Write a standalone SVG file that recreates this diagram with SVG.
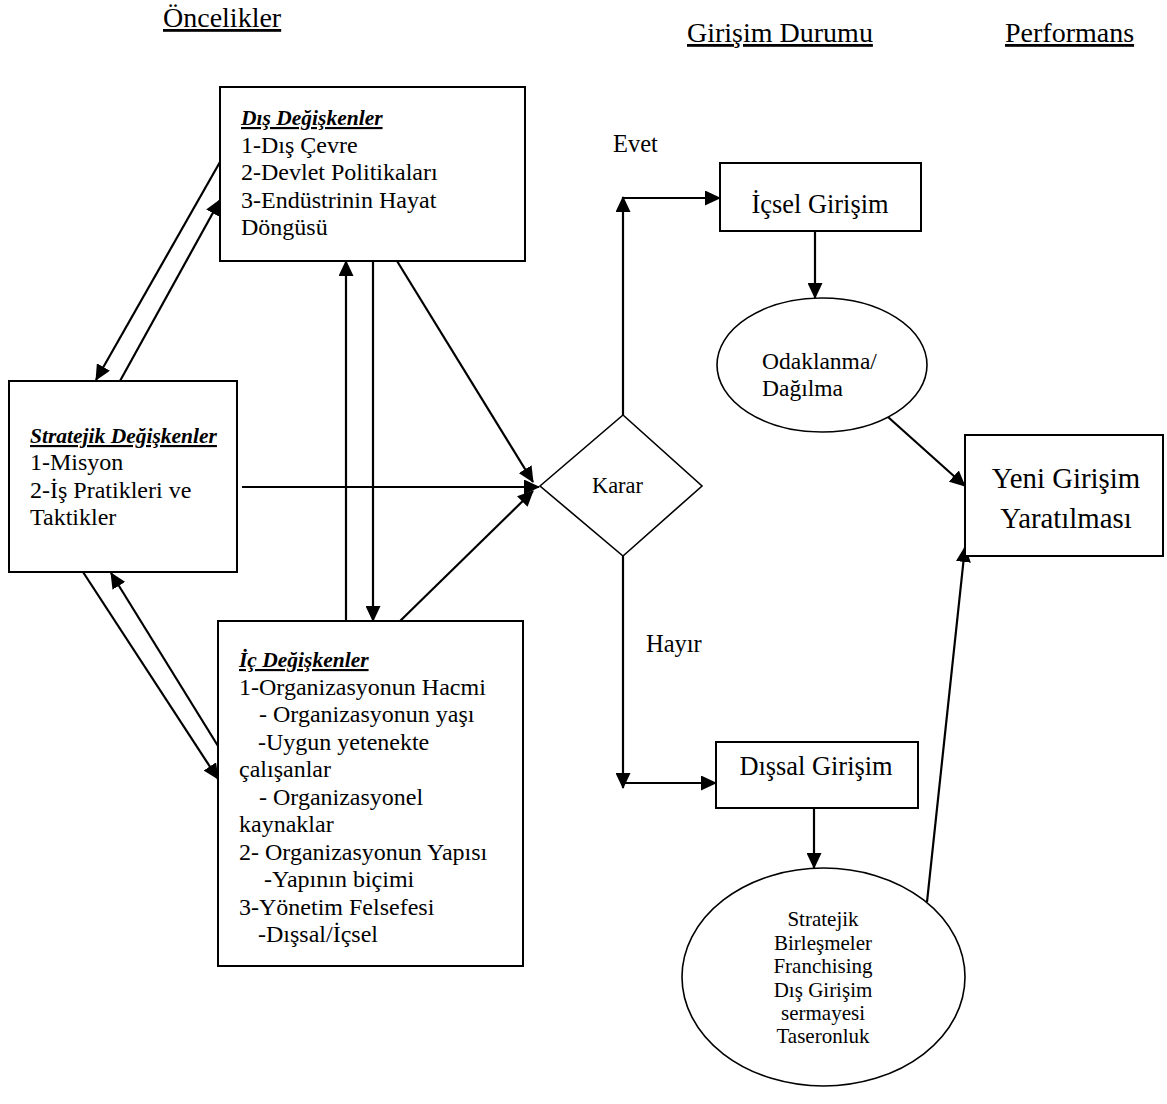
<svg xmlns="http://www.w3.org/2000/svg" width="1167" height="1104" viewBox="0 0 1167 1104">
  <defs>
    <marker id="arrow" viewBox="0 0 16 15" refX="15" refY="7.5" markerWidth="16" markerHeight="15" markerUnits="userSpaceOnUse" orient="auto">
      <path d="M0,0 L16,7.5 L0,15 Z" fill="#000"/>
    </marker>
  </defs>
  <style>
    text { font-family: "Liberation Serif", "Times New Roman", serif; fill: #000; }
    .box { fill: #fff; stroke: #000; stroke-width: 2; }
    .shape { fill: #fff; stroke: #000; stroke-width: 1.6; }
    .body { font-size: 24px; }
    .head { font-size: 21.5px; font-weight: bold; font-style: italic; text-decoration: underline; }
    .title { font-size: 28px; text-decoration: underline; }
    .label { font-size: 24.5px; }
    .conn line { stroke: #000; stroke-width: 2.2; fill: none; }
    .arr { marker-end: url(#arrow); }
  </style>
  <rect width="1167" height="1104" fill="#fff"/>

  <!-- column titles -->
  <g id="titles">
    <text class="title" x="163" y="27">Öncelikler</text>
    <text class="title" x="687" y="42">Girişim Durumu</text>
    <text class="title" x="1005" y="42">Performans</text>
  </g>

  <!-- connectors -->
  <g class="conn" id="connectors">
    <!-- external <-> strategic -->
    <line class="arr" x1="220" y1="162" x2="96" y2="380"/>
    <line class="arr" x1="120" y1="381" x2="220" y2="200"/>
    <!-- strategic <-> internal -->
    <line class="arr" x1="83" y1="572" x2="218" y2="779"/>
    <line class="arr" x1="218" y1="746" x2="111" y2="573"/>
    <!-- external <-> internal -->
    <line class="arr" x1="346" y1="624" x2="346" y2="261"/>
    <line class="arr" x1="373" y1="261" x2="373" y2="621"/>
    <!-- inputs to decision -->
    <line class="arr" x1="397" y1="261" x2="533" y2="482"/>
    <line class="arr" x1="242" y1="487" x2="539" y2="487"/>
    <line class="arr" x1="397" y1="624" x2="533" y2="491"/>
    <!-- yes branch -->
    <line class="arr" x1="623" y1="415" x2="623" y2="197"/>
    <line class="arr" x1="622" y1="198" x2="720" y2="198"/>
    <line class="arr" x1="815" y1="231" x2="815" y2="298"/>
    <line class="arr" x1="888" y1="417" x2="965" y2="486"/>
    <!-- no branch -->
    <line class="arr" x1="623" y1="556" x2="623" y2="788"/>
    <line class="arr" x1="622" y1="783" x2="716" y2="783"/>
    <line class="arr" x1="814" y1="808" x2="814" y2="868"/>
    <line class="arr" x1="927" y1="902" x2="965" y2="547"/>
  </g>

  <g id="dis-degiskenler">
    <rect class="box" x="220" y="87" width="305" height="174"/>
    <text class="head" x="241" y="125">Dış Değişkenler</text>
    <text class="body" x="241" y="152.5">1-Dış Çevre</text>
    <text class="body" x="241" y="180">2-Devlet Politikaları</text>
    <text class="body" x="241" y="207.5">3-Endüstrinin Hayat</text>
    <text class="body" x="241" y="235">Döngüsü</text>
  </g>

  <g id="stratejik-degiskenler">
    <rect class="box" x="9" y="381" width="228" height="191"/>
    <text class="head" x="30" y="443">Stratejik Değişkenler</text>
    <text class="body" x="30" y="470">1-Misyon</text>
    <text class="body" x="30" y="497.5">2-İş Pratikleri ve</text>
    <text class="body" x="30" y="525">Taktikler</text>
  </g>

  <g id="ic-degiskenler">
    <rect class="box" x="218" y="621" width="305" height="345"/>
    <text class="head" x="239" y="667">İç Değişkenler</text>
    <text class="body" x="239" y="694.5">1-Organizasyonun Hacmi</text>
    <text class="body" x="259" y="722">- Organizasyonun yaşı</text>
    <text class="body" x="258" y="749.5">-Uygun yetenekte</text>
    <text class="body" x="239" y="777">çalışanlar</text>
    <text class="body" x="259" y="804.5">- Organizasyonel</text>
    <text class="body" x="239" y="832">kaynaklar</text>
    <text class="body" x="239" y="859.5">2- Organizasyonun Yapısı</text>
    <text class="body" x="264" y="887">-Yapının biçimi</text>
    <text class="body" x="239" y="914.5">3-Yönetim Felsefesi</text>
    <text class="body" x="258" y="942">-Dışsal/İçsel</text>
  </g>

  <g id="karar">
    <polygon class="shape" points="540,486 623,415 702,486 623,556"/>
    <text x="617.5" y="493" font-size="22.4" text-anchor="middle">Karar</text>
  </g>

  <g id="branch-labels">
    <text class="label" x="613" y="152">Evet</text>
    <text class="label" x="646" y="652">Hayır</text>
  </g>

  <g id="icsel-girisim">
    <rect class="box" x="720" y="163" width="201" height="68"/>
    <text x="820" y="213" font-size="26.4" text-anchor="middle">İçsel Girişim</text>
  </g>

  <g id="odaklanma">
    <ellipse class="shape" cx="822" cy="365" rx="105" ry="67"/>
    <text x="762" y="369" font-size="23.5">Odaklanma/</text>
    <text x="762" y="396" font-size="23.5">Dağılma</text>
  </g>

  <g id="yeni-girisim">
    <rect class="box" x="965" y="435" width="198" height="121"/>
    <text x="1066" y="488" font-size="28.8" text-anchor="middle">Yeni Girişim</text>
    <text x="1066" y="528" font-size="28.8" text-anchor="middle">Yaratılması</text>
  </g>

  <g id="dissal-girisim">
    <rect class="box" x="716" y="742" width="202" height="66"/>
    <text x="816" y="775" font-size="26.4" text-anchor="middle">Dışsal Girişim</text>
  </g>

  <g id="dis-yollar">
    <ellipse class="shape" cx="823.5" cy="977" rx="141.5" ry="109"/>
    <g font-size="21" text-anchor="middle">
      <text x="823" y="926">Stratejik</text>
      <text x="823" y="950">Birleşmeler</text>
      <text x="823" y="973">Franchising</text>
      <text x="823" y="997">Dış Girişim</text>
      <text x="823" y="1020">sermayesi</text>
      <text x="823" y="1043">Taseronluk</text>
    </g>
  </g>
</svg>
